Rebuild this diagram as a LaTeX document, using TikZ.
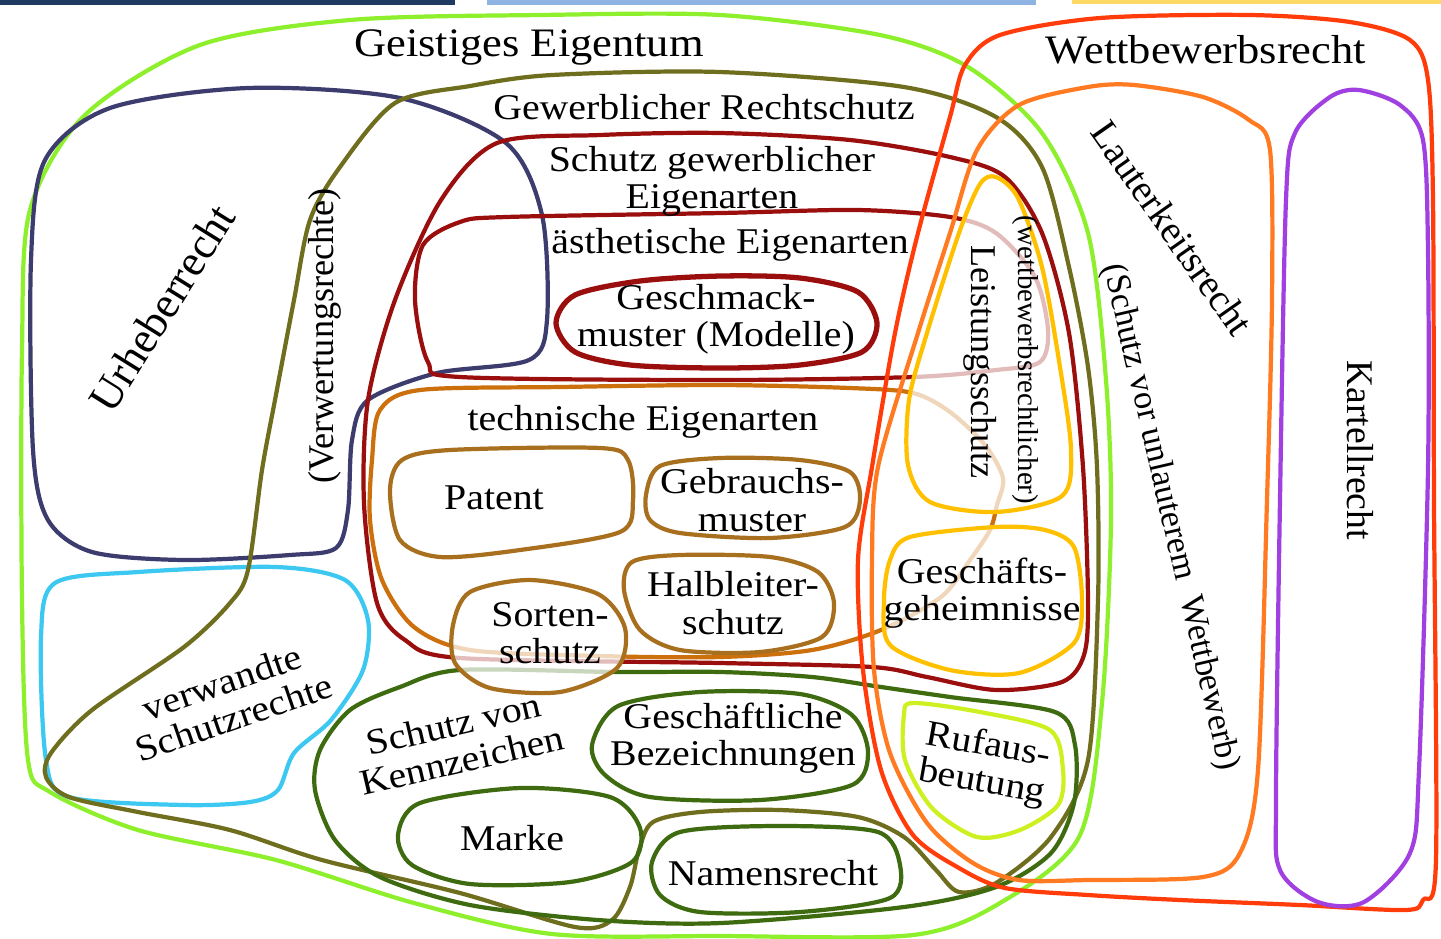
\documentclass[tikz,border=0pt]{standalone}
\usepackage{fontspec}
\setmainfont{Liberation Serif}[FakeStretch=1.1]
\newfontfamily\upserif{Liberation Serif}
\usepackage{tikz}
\definecolor{glime}{HTML}{8EEF2C}
\definecolor{gnavy}{HTML}{3C3C6E}
\definecolor{gsky}{HTML}{3CC8F0}
\definecolor{golive}{HTML}{6E6E1E}
\definecolor{gmaroon}{HTML}{9A0E0E}
\definecolor{gamber}{HTML}{CC700E}
\definecolor{gbrown}{HTML}{A8701E}
\definecolor{gforest}{HTML}{3E6B10}
\definecolor{ggold}{HTML}{FFC000}
\definecolor{gchart}{HTML}{CCF020}
\definecolor{gred}{HTML}{FF3C0A}
\definecolor{gorange}{HTML}{FF7A20}
\definecolor{gpurple}{HTML}{A040E0}
\definecolor{barnavy}{HTML}{1F3A60}
\definecolor{barblue}{HTML}{8FB4E3}
\definecolor{baryellow}{HTML}{FFD966}

\begin{document}
\begin{tikzpicture}[x=0.01cm,y=-0.01cm]
    \tikzset{
      rim/.style={line width=1.2pt, line join=round},
      veil/.style={rim, fill=white, fill opacity=.72},
      lbl/.style={font=\fontsize{10.3}{10.6}\selectfont, align=center, inner sep=0pt},
      ttl/.style={font=\fontsize{11.5}{12}\selectfont, inner sep=0pt},
      rlbl/.style={font=\upserif\fontsize{10.3}{10.6}\selectfont, inner sep=0pt}}
    \useasboundingbox (0,0) rectangle (1441,938);
    \fill[barnavy] (0,0) rectangle (455,5);
    \fill[barblue] (487,0) rectangle (1036,5);
    \fill[baryellow] (1072,0) rectangle (1441,4);

    \draw[rim, glime] plot[smooth cycle] coordinates {(22,350) (30,210) (85,115) (200,45) (350,20) (540,15) (720,15) (880,35) (968,67) (1042,133) (1088,233) (1106,380) (1111,520) (1102,703) (1079,837) (1000,903) (913,935) (720,936) (552,934) (414,903) (276,860) (138,830) (50,792) (28,760) (22,600)};
    \draw[rim, gnavy] plot[smooth cycle] coordinates {(31,260) (45,160) (110,108) (248,88) (400,98) (506,143) (542,215) (547,320) (529,360) (437,373) (368,400) (352,440) (348,510) (336,548) (290,555) (184,560) (92,552) (48,520) (33,450)};
    \draw[rim, gsky] plot[smooth cycle] coordinates {(55,583) (138,572) (276,567) (345,580) (368,620) (363,670) (331,720) (294,753) (278,790) (250,802) (184,805) (69,797) (46,760) (41,637)};
    \draw[rim, golive] plot[smooth cycle] coordinates {(340,167) (395,103) (470,86) (552,75) (720,72) (904,87) (996,117) (1042,167) (1069,267) (1088,367) (1097,467) (1098,600) (1088,760) (1051,837) (996,883) (959,892) (936,870) (904,837) (858,817) (780,810) (700,812) (653,822) (639,850) (630,887) (612,920) (575,927) (460,893) (322,860) (230,830) (138,812) (69,797) (46,777) (51,753) (92,710) (184,647) (230,603) (248,570) (262,470) (275,400) (294,300) (310,220)};
    \draw[rim, gmaroon] plot[smooth cycle] coordinates {(441,200) (497,143) (600,135) (720,133) (850,140) (950,157) (1005,177) (1042,233) (1069,333) (1083,467) (1088,600) (1084,655) (1062,682) (996,690) (927,677) (872,667) (720,663) (460,658) (405,640) (377,603) (364,503) (368,400) (395,300)};
    \draw[rim, gmaroon] plot[smooth cycle] coordinates {(423,245) (460,222) (506,217) (721,213) (858,210) (950,217) (996,233) (1035,277) (1048,330) (1040,362) (996,370) (913,377) (721,380) (460,377) (428,362) (415,300)};
    \draw[rim, gmaroon, line width=1.5pt] plot[smooth cycle] coordinates {(556,323) (575,295) (640,281) (721,276) (800,278) (858,292) (877,323) (862,352) (800,365) (721,368) (630,365) (575,352)};
    \draw[rim, gamber] plot[smooth cycle] coordinates {(372,460) (380,410) (420,390) (560,387) (720,385) (850,388) (913,393) (950,412) (985,445) (1003,478) (997,505) (990,530) (970,560) (941,597) (881,630) (812,650) (720,657) (600,656) (470,650) (414,627) (382,580) (370,520)};
    \draw[rim, gbrown] plot[smooth cycle] coordinates {(390,490) (402,460) (450,450) (600,448) (628,460) (633,500) (620,532) (520,550) (440,557) (400,540)};
    \draw[rim, gbrown] plot[smooth cycle] coordinates {(646,495) (660,466) (720,458) (800,460) (850,472) (860,500) (845,527) (770,538) (680,533) (650,520)};
    \draw[rim, gbrown] plot[smooth cycle] coordinates {(624,590) (632,562) (680,555) (770,557) (818,572) (834,603) (822,637) (760,652) (680,650) (640,630)};
    \draw[rim, gforest] plot[smooth cycle] coordinates {(460,670) (400,687) (350,710) (320,750) (315,790) (335,840) (380,877) (470,905) (598,920) (721,923) (904,907) (996,887) (1051,853) (1074,803) (1075,745) (1055,712) (950,697) (881,687) (812,677) (721,672) (616,672)};
    \draw[rim, gforest] plot[smooth cycle] coordinates {(592,745) (618,706) (700,692) (800,694) (852,715) (868,752) (852,785) (760,800) (650,797) (605,775)};
    \draw[rim, gforest] plot[smooth cycle] coordinates {(398,835) (420,803) (520,788) (610,797) (640,828) (632,862) (570,882) (470,884) (412,865)};
    \draw[rim, gforest] plot[smooth cycle] coordinates {(652,862) (680,832) (780,826) (878,832) (900,865) (890,898) (800,912) (700,912) (660,895)};
    \draw[veil, draw=gbrown] plot[smooth cycle] coordinates {(453,625) (470,592) (530,580) (598,594) (625,628) (617,668) (560,692) (490,688) (455,663)};
    \draw[veil, draw=ggold] plot[smooth cycle] coordinates {(996,177) (1018,198) (1042,267) (1060,367) (1071,450) (1062,496) (996,512) (930,502) (908,465) (909,400) (927,333) (959,233) (980,184)};
    \draw[veil, draw=ggold] plot[smooth cycle] coordinates {(996,527) (1045,530) (1074,547) (1082,600) (1074,643) (1019,673) (950,670) (890,645) (884,600) (890,560) (910,537)};
    \draw[rim, gchart] plot[smooth cycle] coordinates {(913,703) (980,712) (1050,730) (1063,770) (1058,805) (1020,830) (977,837) (932,808) (905,760) (904,715)};
    \draw[rim, gred] plot[smooth cycle] coordinates {(872,467) (895,333) (918,233) (950,117) (965,65) (1000,35) (1100,18) (1250,15) (1350,22) (1410,40) (1428,80) (1433,200) (1434,500) (1436,860) (1423,900) (1405,910) (1300,905) (1180,900) (1088,895) (1005,888) (959,868) (913,835) (881,770) (863,670) (858,560)};
    \draw[rim, gorange] plot[smooth cycle] coordinates {(878,467) (918,333) (950,233) (977,150) (1019,105) (1088,87) (1134,85) (1203,97) (1249,120) (1270,150) (1272,300) (1267,500) (1258,770) (1240,853) (1203,877) (1088,880) (1019,880) (973,863) (927,823) (890,753) (874,670) (872,560)};
    \draw[rim, gpurple] plot[smooth cycle] coordinates {(1286,200) (1295,133) (1330,97) (1359,90) (1400,105) (1423,140) (1428,250) (1428,470) (1419,770) (1410,853) (1364,902) (1318,902) (1280,870) (1276,800) (1280,500)};

    \node[ttl] (geist) at (529,47) {Geistiges Eigentum};
    \node[ttl] (wett) at (1206,50) {Wettbewerbsrecht};
    \node[lbl] (gewerb) at (704,107) {Gewerblicher Rechtschutz};
    \node[lbl] (eigen) at (712,181) {Schutz gewerblicher\\Eigenarten};
    \node[lbl] (aesth) at (730,245) {ästhetische Eigenarten};
    \node[lbl] (geschm) at (716,319) {Geschmack-\\muster (Modelle)};
    \node[lbl] (techn) at (643,422) {technische Eigenarten};
    \node[lbl] (patent) at (494,498) {Patent};
    \node[lbl] (gebr) at (752,500) {Gebrauchs-\\muster};
    \node[lbl] (halbl) at (733,603) {Halbleiter-\\schutz};
    \node[lbl] (sorten) at (550,633) {Sorten-\\schutz};
    \node[lbl] (geheim) at (982,593) {Geschäfts-\\geheimnisse};
    \node[lbl, rotate=13] (kennz) at (458,742) {Schutz von\\Kennzeichen};
    \node[lbl] (bezeich) at (733,738) {Geschäftliche\\Bezeichnungen};
    \node[lbl] (marke) at (512,838) {Marke};
    \node[lbl] (namen) at (773,873) {Namensrecht};
    \node[lbl, rotate=19] (verw) at (228,700) {verwandte\\Schutzrechte};
    \node[lbl, rotate=-10] (ruf) at (985,765) {Rufaus-\\beutung};
    \node[rlbl, rotate=-90] (leist) at (980,362) {Leistungsschutz};
    \node[rlbl, rotate=-90, font=\upserif\fontsize{8.2}{9}\selectfont] (wettr) at (1025,360) {(wettbewerbsrechtlicher)};
    \node[rlbl, rotate=-55, font=\upserif\fontsize{11}{12}\selectfont] (lauter) at (1172,228) {Lauterkeitsrecht};
    \node[rlbl, rotate=-77, font=\upserif\fontsize{9.8}{10}\selectfont] (unlauter) at (1170,517) {(Schutz vor unlauterem\ \ Wettbewerb)};
    \node[rlbl, rotate=-90, font=\upserif\fontsize{10.7}{11}\selectfont] (kartell) at (1360,450) {Kartellrecht};
    \node[rlbl, rotate=58, font=\upserif\fontsize{12.6}{14}\selectfont] (urheber) at (162,308) {Urheberrecht};
    \node[rlbl, rotate=90] (verwert) at (325,336) {(Verwertungsrechte)};
\end{tikzpicture}
\end{document}
